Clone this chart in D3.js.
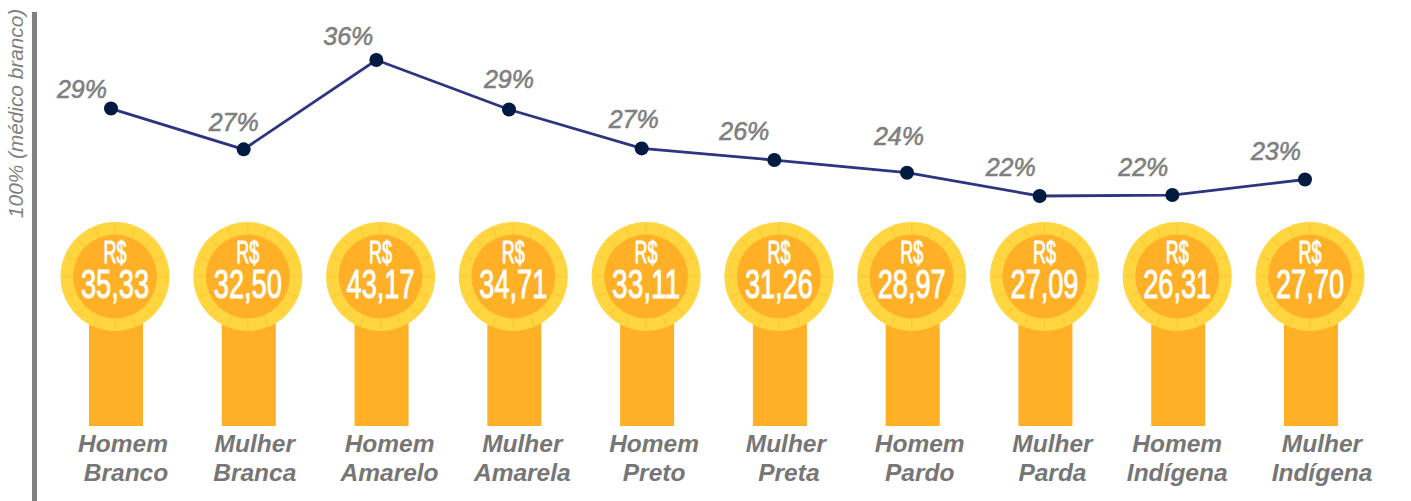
<!DOCTYPE html>
<html>
<head>
<meta charset="utf-8">
<title>Rendimento por hora</title>
<script src="https://d3js.org/d3.v7.min.js"></script>
<style>
  html, body { margin: 0; padding: 0; background: #fff; overflow: hidden; }
  svg { display: block; }
  text { font-family: "Liberation Sans", Arial, sans-serif; }
  .cat { font-size: 24.5px; font-weight: bold; font-style: italic; fill: #767676; text-anchor: middle; }
  .pct { font-size: 25px; font-style: italic; fill: #7f7f7f; stroke: #7f7f7f; stroke-width: 0.6; text-anchor: middle; }
  .ylabel { font-size: 20.8px; font-style: italic; fill: #7f7f7f; }
  .coin-text { font-family: "Liberation Sans Narrow", "Liberation Sans", sans-serif; fill: #fff; stroke: #fff; stroke-width: 1; text-anchor: middle; }
</style>
</head>
<body>
<script>
// data
var line1 = ["Homem", "Mulher", "Homem", "Mulher", "Homem", "Mulher", "Homem", "Mulher", "Homem", "Mulher"];
var line2 = ["Branco", "Branca", "Amarelo", "Amarela", "Preto", "Preta", "Pardo", "Parda", "Indígena", "Indígena"];
var reais = [35.33, 32.50, 43.17, 34.71, 33.11, 31.26, 28.97, 27.09, 26.31, 27.70];
var reaisLabels = ["35,33", "32,50", "43,17", "34,71", "33,11", "31,26", "28,97", "27,09", "26,31", "27,70"];
var pctLabels = ["29%", "27%", "36%", "29%", "27%", "26%", "24%", "22%", "22%", "23%"];
// height of the line on its own percent axis (estimated, the drawn line does not follow the labels exactly)
var pctValues = [31, 26.8, 36, 30.9, 26.9, 25.7, 24.4, 22, 22.1, 23.7];

var w = 1411;
var h = 501;
var idx = d3.range(reais.length);

var svg = d3.select("body").append("svg")
  .attr("width", w)
  .attr("height", h);

// scales
var x_bar = d3.scalePoint().domain(idx).range([116, 1311]);
var x_coin = d3.scalePoint().domain(idx).range([115, 1310]);
var x_line = d3.scalePoint().domain(idx).range([111, 1305]);
var y_bar = d3.scaleLinear().domain([0, 43.17]).range([426, 252]);
var y_line = d3.scaleLinear().domain([22, 36]).range([196, 60]);

// the left rule and its label
svg.append("rect")
  .attr("x", 32).attr("y", 12)
  .attr("width", 5).attr("height", h - 12)
  .attr("fill", "#808080");

svg.append("text")
  .attr("class", "ylabel")
  .attr("transform", "translate(23,218) rotate(-90)")
  .text("100% (médico branco)");

// bars, tops are hidden behind the coins
svg.selectAll("rect.bar")
  .data(idx)
  .enter()
  .append("rect")
  .attr("class", "bar")
  .attr("x", function(i) { return x_bar(i) - 27; })
  .attr("y", function(i) { return y_bar(reais[i]); })
  .attr("width", 54)
  .attr("height", function(i) { return y_bar(0) - y_bar(reais[i]); })
  .attr("fill", "#ffb027");

// coins
var coin = svg.selectAll("g.coin")
  .data(idx)
  .enter()
  .append("g")
  .attr("class", "coin")
  .attr("transform", function(i) { return "translate(" + x_coin(i) + ",276.5)"; });

coin.append("circle").attr("r", 54.5).attr("fill", "#ffd640");

// little notches round the rim
coin.selectAll("line")
  .data(d3.range(16))
  .enter()
  .append("line")
  .attr("x1", function(k) { return 43 * Math.cos(k * Math.PI / 8); })
  .attr("y1", function(k) { return 43 * Math.sin(k * Math.PI / 8); })
  .attr("x2", function(k) { return 52 * Math.cos(k * Math.PI / 8); })
  .attr("y2", function(k) { return 52 * Math.sin(k * Math.PI / 8); })
  .attr("stroke", "#ffc835")
  .attr("stroke-width", 1.5);

coin.append("circle").attr("r", 42).attr("fill", "#ffb027");

coin.append("text")
  .attr("class", "coin-text")
  .attr("y", -14)
  .attr("font-size", 32)
  .attr("textLength", 23)
  .attr("lengthAdjust", "spacingAndGlyphs")
  .text("R$");

coin.append("text")
  .attr("class", "coin-text")
  .attr("y", 21.5)
  .attr("font-size", 41)
  .attr("textLength", 68)
  .attr("lengthAdjust", "spacingAndGlyphs")
  .text(function(i) { return reaisLabels[i]; });

// line on top
var line = d3.line()
  .x(function(i) { return x_line(i); })
  .y(function(i) { return y_line(pctValues[i]); });

svg.append("path")
  .datum(idx)
  .attr("d", line)
  .attr("fill", "none")
  .attr("stroke", "#2b3580")
  .attr("stroke-width", 2.8);

svg.selectAll("circle.dot")
  .data(idx)
  .enter()
  .append("circle")
  .attr("class", "dot")
  .attr("cx", function(i) { return x_line(i); })
  .attr("cy", function(i) { return y_line(pctValues[i]); })
  .attr("r", 7)
  .attr("fill", "#001a42");

// percent labels were placed by hand in the original
var pctDx = [-29, -10, -28, 0, -8, -30, -8, -29, -29, -29];
var pctDy = [-11, -18, -15, -22, -20, -20, -28, -20, -19, -19];
svg.selectAll("text.pct")
  .data(idx)
  .enter()
  .append("text")
  .attr("class", "pct")
  .attr("x", function(i) { return x_line(i) + pctDx[i]; })
  .attr("y", function(i) { return y_line(pctValues[i]) + pctDy[i]; })
  .text(function(i) { return pctLabels[i]; });

// category labels, same thing, a few sit off the regular spacing
var catDx = [7, 6, 8, 8, 7, 6, 7, 7, -1, 11];
var cat2Dx = [10, 6, 8, 8, 7, 9, 7, 7, -1, 11];
var cat = svg.selectAll("text.cat")
  .data(idx)
  .enter()
  .append("text")
  .attr("class", "cat")
  .attr("x", function(i) { return x_bar(i) + catDx[i]; })
  .attr("y", 452);

cat.append("tspan").text(function(i) { return line1[i]; });
cat.append("tspan")
  .attr("x", function(i) { return x_bar(i) + cat2Dx[i]; })
  .attr("y", 481)
  .text(function(i) { return line2[i]; });
</script>
</body>
</html>
